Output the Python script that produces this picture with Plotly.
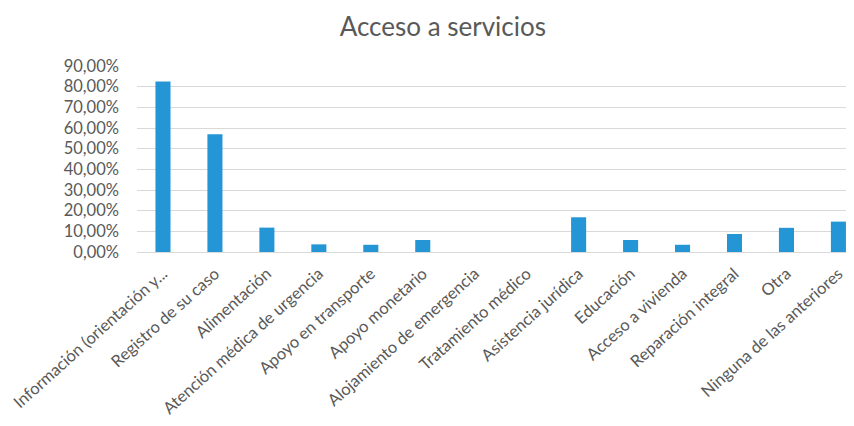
import plotly.graph_objects as go

categories = [
    "Información (orientación y...",
    "Registro de su caso",
    "Alimentación",
    "Atención médica de urgencia",
    "Apoyo en transporte",
    "Apoyo monetario",
    "Alojamiento de emergencia",
    "Tratamiento médico",
    "Asistencia jurídica",
    "Educación",
    "Acceso a vivienda",
    "Reparación integral",
    "Otra",
    "Ninguna de las anteriores",
]
values = [0.825, 0.57, 0.118, 0.037, 0.035, 0.058, 0.0, 0.0, 0.168, 0.058, 0.035, 0.087, 0.117, 0.147]
y_ticks = [0, 0.1, 0.2, 0.3, 0.4, 0.5, 0.6, 0.7, 0.8, 0.9]

fig = go.Figure()
fig.add_trace(go.Bar(
    x=list(range(len(categories))),
    y=values,
    marker=dict(color="#2496D6", line=dict(width=0)),
    width=0.29,
))

fig.update_layout(
    width=846,
    height=418,
    paper_bgcolor="white",
    plot_bgcolor="white",
    separators=",.",
    font=dict(family="Lato, 'Open Sans', sans-serif", color="#595959", size=13),
    title=dict(text="Acceso a servicios", x=0.514, xanchor="center", y=0.955, yanchor="middle",
               font=dict(size=26, color="#595959", family="Lato, 'Open Sans', sans-serif")),
    margin=dict(l=129, r=0, t=58, b=174),
    showlegend=False,
)
fig.update_xaxes(
    range=[-0.5, 13.3],
    tickmode="array",
    tickvals=list(range(len(categories))),
    ticktext=categories,
    tickangle=-42,
    showgrid=False,
    showline=False,
    zeroline=False,
    automargin=False,
    ticklabelstandoff=8,
    tickfont=dict(size=16.5, color="#595959"),
)
fig.update_yaxes(
    range=[0, 0.9],
    tickvals=y_ticks,
    tickformat=".2%",
    showgrid=True,
    gridcolor="#D9D9D9",
    gridwidth=1,
    zeroline=True,
    zerolinecolor="#D9D9D9",
    zerolinewidth=1,
    showline=False,
    automargin=False,
    ticklabelstandoff=17,
    tickfont=dict(size=16.5, color="#595959"),
)

fig.write_html("out.html")
